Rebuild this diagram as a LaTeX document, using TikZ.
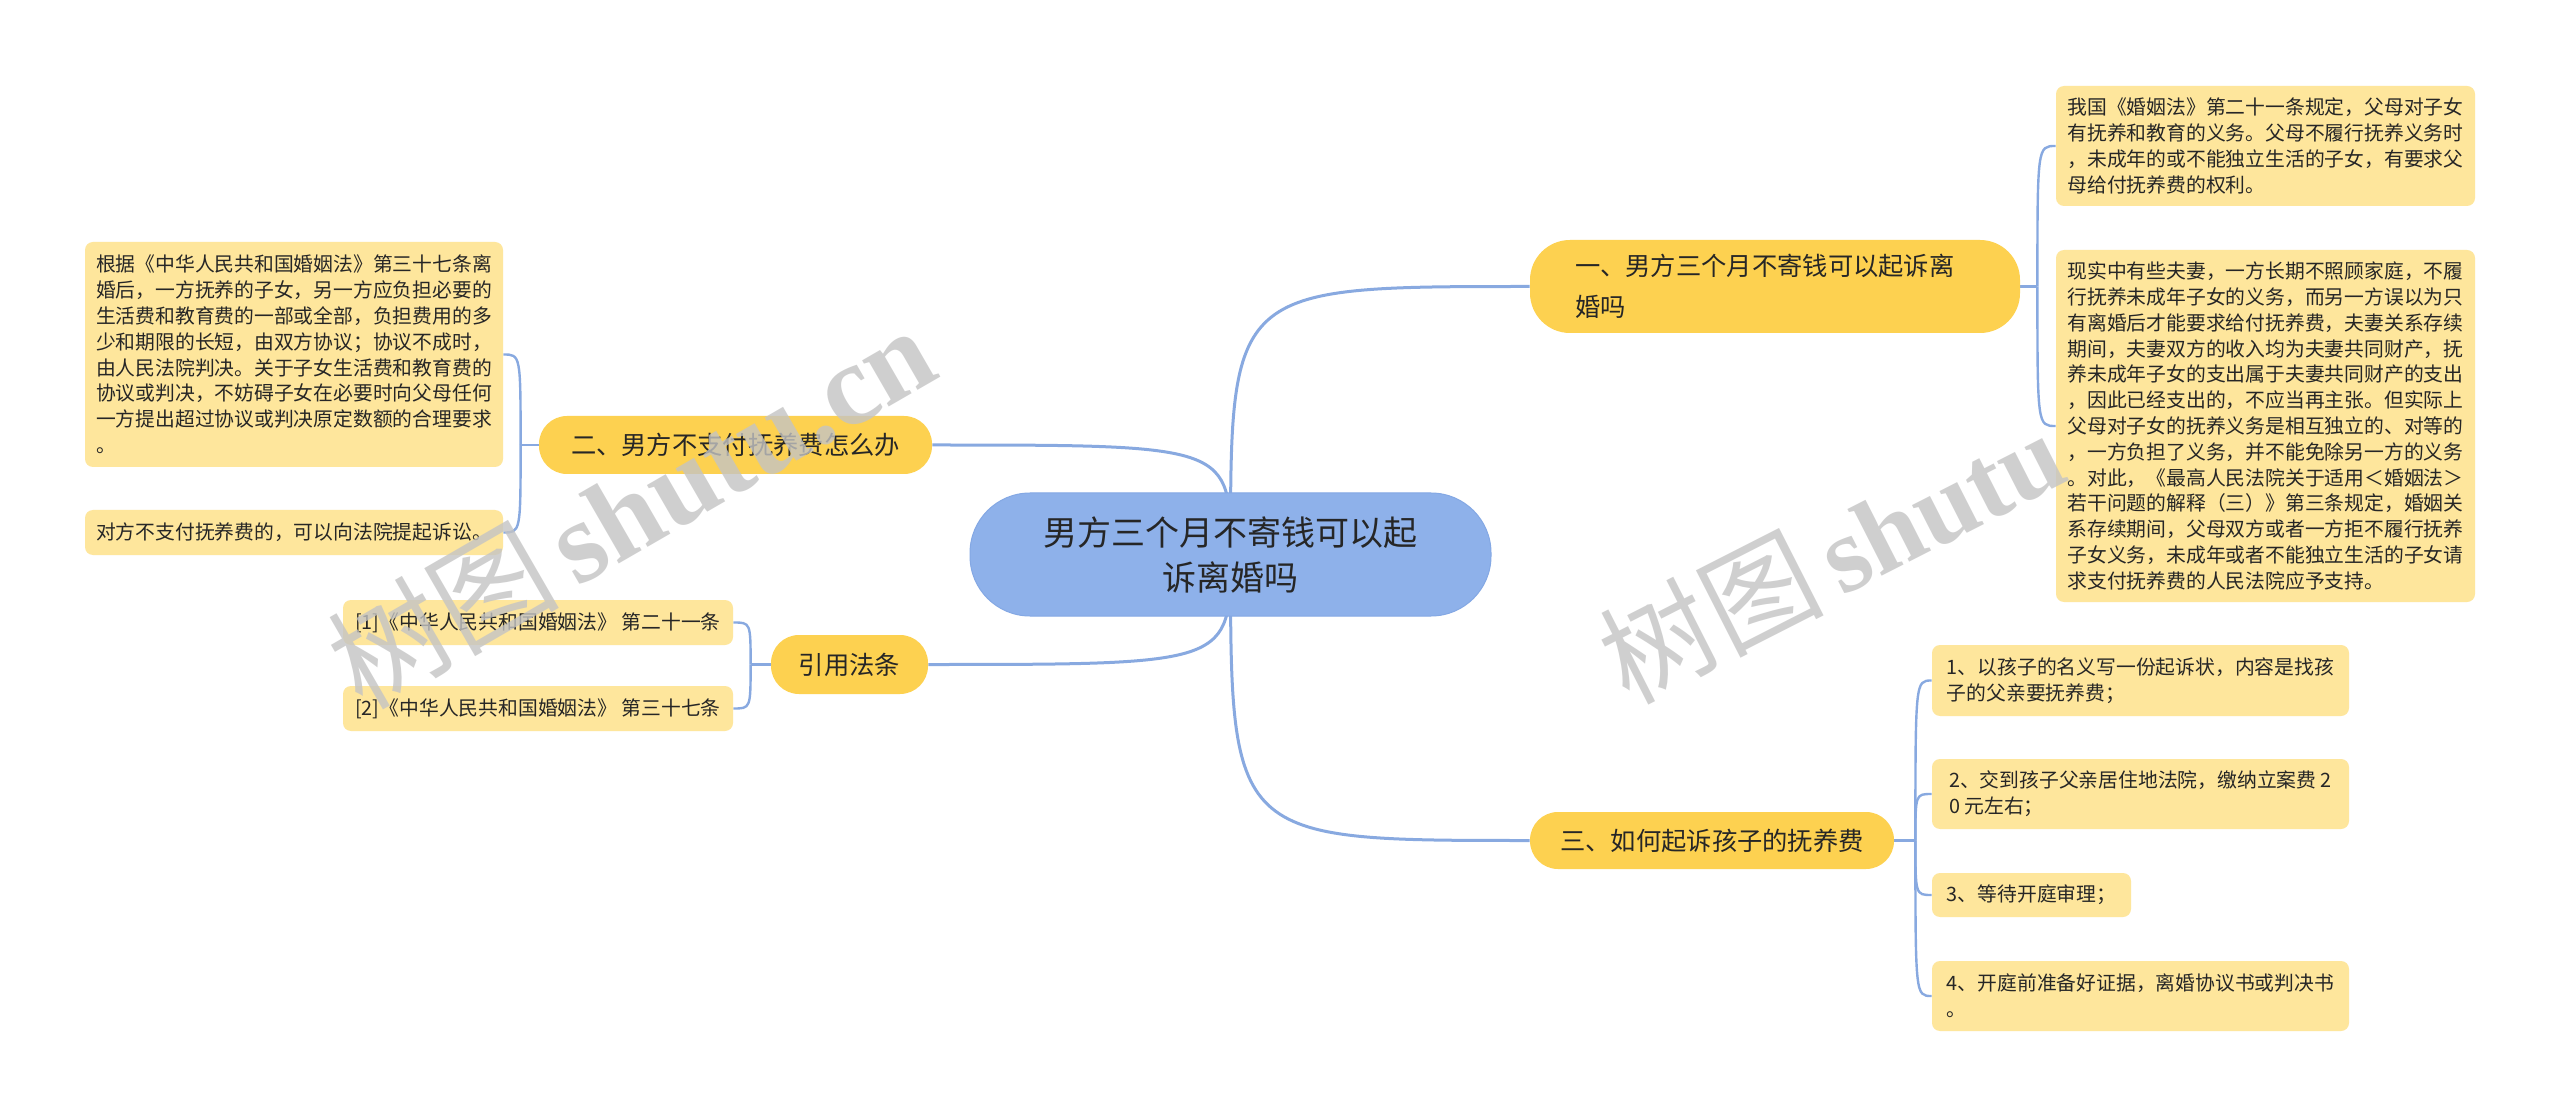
\documentclass[tikz,border=0pt]{standalone}
\usepackage{fontspec}
\setmainfont{Noto Sans CJK SC}
\newfontfamily\wmcjk{Noto Sans CJK SC}
\newfontfamily\wmlat{Liberation Serif}
\usetikzlibrary{calc}
\definecolor{linkblue}{HTML}{88A9E0}
\definecolor{rootblue}{HTML}{8EB1EA}
\definecolor{rootedge}{HTML}{84A8E4}
\definecolor{branchyellow}{HTML}{FDD150}
\definecolor{leafyellow}{HTML}{FEE69C}
\definecolor{txt}{HTML}{262626}
\definecolor{wmgray}{HTML}{C4C4C4}
\pgfdeclarelayer{bg}
\pgfsetlayers{bg,main}
\begin{document}
\begin{tikzpicture}[x=0.5pt,y=-0.5pt,
  conn/.style={draw=linkblue, line width=1.5pt},
  sub/.style={draw=linkblue, line width=1.2pt},
  root/.style={fill=rootblue, draw=rootedge, line width=0.5pt, rounded corners=30pt, align=center,
    font=\fontsize{17pt}{22.5pt}\selectfont, text=txt, inner sep=0pt},
  branch/.style={fill=branchyellow, font=\fontsize{12.65pt}{20.5pt}\selectfont, text=txt, inner sep=0pt, align=left},
  leaf/.style={fill=leafyellow, rounded corners=4pt, font=\fontsize{9.9pt}{12.9pt}\selectfont, text=txt, inner sep=0pt, align=left},
  wm/.style={text=wmgray, text opacity=0.8, inner sep=0pt}
]
\useasboundingbox (0,0) rectangle (2560,1117);

% central and branch nodes
\node[root, minimum width=260.5pt, minimum height=61.5pt] (root) at (1230.5,554.5)
  {男方三个月不寄钱可以起\\诉离婚吗};
\node[branch, rounded corners=20pt, minimum width=245pt, minimum height=46.5pt, text width=200pt] (b1) at (1775,286.5)
  {一、男方三个月不寄钱可以起诉离\\婚吗};
\node[branch, rounded corners=14pt, minimum width=196.5pt, minimum height=29pt] (b2) at (735.5,445)
  {二、男方不支付抚养费怎么办};
\node[branch, rounded corners=14pt, minimum width=78.5pt, minimum height=29.5pt] (b3) at (849.5,664.5)
  {引用法条};
\node[branch, rounded corners=14pt, minimum width=182pt, minimum height=28.5pt] (b4) at (1712,840.5)
  {三、如何起诉孩子的抚养费};

% leaves of branch one
\node[leaf, minimum width=209.5pt, minimum height=60pt] (la) at (2265.5,146)
  {我国《婚姻法》第二十一条规定，父母对子女\\
   有抚养和教育的义务。父母不履行抚养义务时\\
   ，未成年的或不能独立生活的子女，有要求父\\
   母给付抚养费的权利。};
\node[leaf, minimum width=209.5pt, minimum height=176pt] (lb) at (2265.5,426)
  {现实中有些夫妻，一方长期不照顾家庭，不履\\
   行抚养未成年子女的义务，而另一方误以为只\\
   有离婚后才能要求给付抚养费，夫妻关系存续\\
   期间，夫妻双方的收入均为夫妻共同财产，抚\\
   养未成年子女的支出属于夫妻共同财产的支出\\
   ，因此已经支出的，不应当再主张。但实际上\\
   父母对子女的抚养义务是相互独立的、对等的\\
   ，一方负担了义务，并不能免除另一方的义务\\
   。对此，《最高人民法院关于适用＜婚姻法＞\\
   若干问题的解释（三）》第三条规定，婚姻关\\
   系存续期间，父母双方或者一方拒不履行抚养\\
   子女义务，未成年或者不能独立生活的子女请\\
   求支付抚养费的人民法院应予支持。};

% leaves of branch two
\node[leaf, minimum width=209pt, minimum height=112.5pt] (lc) at (294,354.5)
  {根据《中华人民共和国婚姻法》第三十七条离\\
   婚后，一方抚养的子女，另一方应负担必要的\\
   生活费和教育费的一部或全部，负担费用的多\\
   少和期限的长短，由双方协议；协议不成时，\\
   由人民法院判决。关于子女生活费和教育费的\\
   协议或判决，不妨碍子女在必要时向父母任何\\
   一方提出超过协议或判决原定数额的合理要求\\
   。};
\node[leaf, minimum width=209pt, minimum height=22.5pt] (ld) at (294,532.5)
  {对方不支付抚养费的，可以向法院提起诉讼。};

% references
\node[leaf, minimum width=195pt, minimum height=22.5pt] (r1) at (538,622.5)
  {[1]《中华人民共和国婚姻法》 第二十一条};
\node[leaf, minimum width=195pt, minimum height=22.5pt] (r2) at (538,708.5)
  {[2]《中华人民共和国婚姻法》 第三十七条};

% leaves of branch three
\node[leaf, minimum width=208.5pt, minimum height=35.5pt] (s1) at (2140.5,680.5)
  {1、以孩子的名义写一份起诉状，内容是找孩\\子的父亲要抚养费；};
\node[leaf, minimum width=208.5pt, minimum height=35pt] (s2) at (2140.5,794)
  {2、交到孩子父亲居住地法院，缴纳立案费 2\\0 元左右；};
\node[leaf, minimum width=99.5pt, minimum height=22pt] (s3) at (2031.5,895)
  {3、等待开庭审理；};
\node[leaf, minimum width=208.5pt, minimum height=35pt] (s4) at (2140.5,996)
  {4、开庭前准备好证据，离婚协议书或判决书\\。};

% junctions
\coordinate (j1) at ($(b1.east)+(17,0)$);
\coordinate (j2) at ($(b2.west)+(-18,0)$);
\coordinate (j3) at ($(b3.west)+(-20,0)$);
\coordinate (j4) at ($(b4.east)+(21,0)$);

\begin{pgfonlayer}{bg}
  \fill[white] (0,0) rectangle (2560,1117);
  \draw[conn] (root.center) .. controls (root.center |- b1.west) .. (b1.west);
  \draw[conn] (root.center) .. controls (root.center |- b2.east) .. (b2.east);
  \draw[conn] (root.center) .. controls (root.center |- b3.east) .. (b3.east);
  \draw[conn] (root.center) .. controls (root.center |- b4.west) .. (b4.west);

  \draw[sub] (b1.east) -- (j1);
  \draw[sub] (j1) .. controls (j1 |- la.west) .. (la.west);
  \draw[sub] (j1) .. controls (j1 |- lb.west) .. (lb.west);

  \draw[sub] (b2.west) -- (j2);
  \draw[sub] (j2) .. controls (j2 |- lc.east) .. (lc.east);
  \draw[sub] (j2) .. controls (j2 |- ld.east) .. (ld.east);

  \draw[sub] (b3.west) -- (j3);
  \draw[sub] (j3) .. controls (j3 |- r1.east) .. (r1.east);
  \draw[sub] (j3) .. controls (j3 |- r2.east) .. (r2.east);

  \draw[sub] (b4.east) -- (j4);
  \draw[sub] (j4) .. controls (j4 |- s1.west) .. (s1.west);
  \draw[sub] (j4) .. controls (j4 |- s2.west) .. (s2.west);
  \draw[sub] (j4) .. controls (j4 |- s3.west) .. (s3.west);
  \draw[sub] (j4) .. controls (j4 |- s4.west) .. (s4.west);
\end{pgfonlayer}

% watermarks
\node[wm, rotate=30, anchor=base west] (wm1) at (362,712)
  {{\wmcjk\fontsize{58pt}{58pt}\selectfont 树图}\hspace{8pt}{\wmlat\bfseries\fontsize{58pt}{58pt}\selectfont shutu.cn}};
\node[wm, rotate=27, anchor=base west] (wm2) at (1628,706)
  {{\wmcjk\fontsize{56pt}{56pt}\selectfont 树图}\hspace{8pt}{\wmlat\bfseries\fontsize{54pt}{54pt}\selectfont shutu}};
\end{tikzpicture}
\end{document}
